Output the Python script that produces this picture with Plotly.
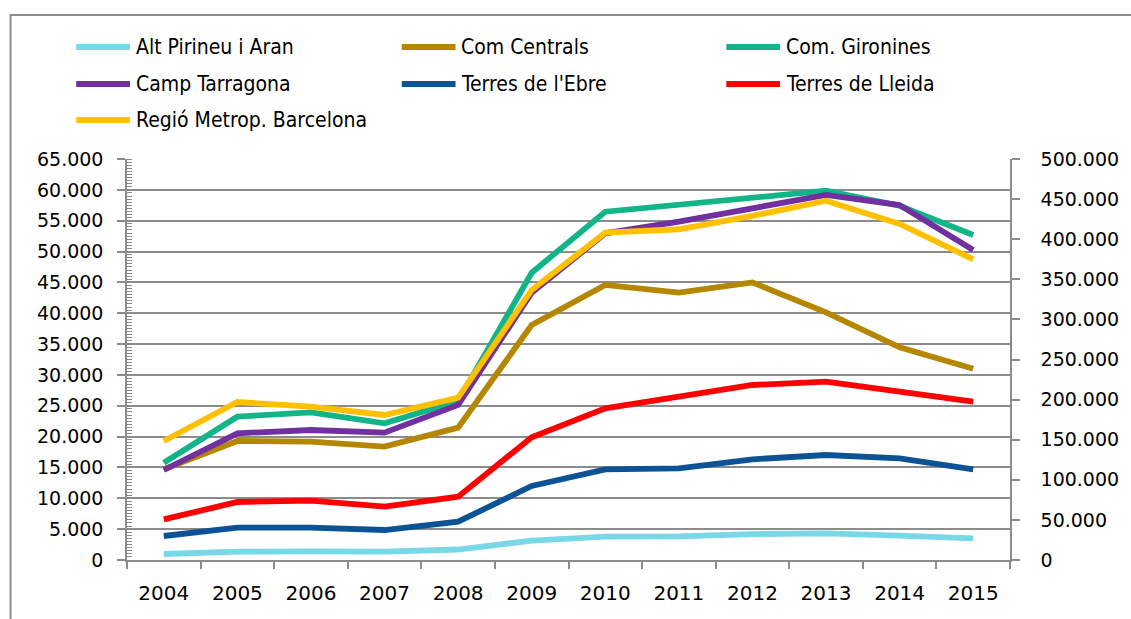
import plotly.graph_objects as go

years = ["2004", "2005", "2006", "2007", "2008", "2009", "2010", "2011", "2012", "2013", "2014", "2015"]

alt_pirineu = [970, 1350, 1400, 1350, 1700, 3130, 3780, 3840, 4200, 4320, 3950, 3510]
com_centrals = [14700, 19290, 19180, 18370, 21450, 38090, 44580, 43330, 45000, 40150, 34480, 31010]
com_gironines = [15770, 23230, 23940, 22160, 25750, 46570, 56460, 57540, 58730, 59860, 57430, 52680]
camp_tarragona = [14590, 20540, 21070, 20640, 25130, 43330, 52960, 54840, 57010, 59170, 57540, 50250]
terres_ebre = [3890, 5240, 5240, 4860, 6210, 12000, 14700, 14860, 16320, 17020, 16480, 14700]
terres_lleida = [6590, 9400, 9610, 8640, 10260, 19890, 24590, 26470, 28370, 28900, 27280, 25660]
regio_bcn = [148400, 197000, 191200, 180800, 202500, 336700, 408100, 412400, 429000, 448000, 419000, 374900]

names = ["Alt Pirineu i Aran", "Com Centrals", "Com. Gironines",
         "Camp Tarragona", "Terres de l'Ebre", "Terres de Lleida",
         "Regió Metrop. Barcelona"]
series = [alt_pirineu, com_centrals, com_gironines, camp_tarragona,
          terres_ebre, terres_lleida, regio_bcn]
colors = ["#78D8E8", "#B58600", "#12B588", "#7030A0", "#0B5394", "#FF0000", "#FFC000"]
axes = ["y", "y", "y", "y", "y", "y", "y2"]

left_ticks = list(range(0, 65001, 5000))
right_ticks = list(range(0, 500001, 50000))

W, H = 1131, 619
L, R, T, B = 127, 1014, 159, 560  # plot area in px

fig = go.Figure()
for name, vals, col, ax in zip(names, series, colors, axes):
    fig.add_trace(go.Scatter(x=years, y=vals, name=name, mode="lines",
                             line=dict(color=col, width=5.8), yaxis=ax,
                             showlegend=False))

grid = "#8C8C8C"
tickfont = dict(family="DejaVu Sans", size=19, color="#000000")

fig.update_layout(
    width=W, height=H,
    margin=dict(l=L, r=W - R, t=T, b=H - B, pad=0),
    paper_bgcolor="white", plot_bgcolor="white",
    separators=",.",
    xaxis=dict(type="category", range=[-0.5, 11.5], tickson="boundaries",
               ticks="outside", ticklen=7, tickcolor=grid, tickwidth=1.5,
               showline=True, linecolor=grid, linewidth=1.5, showgrid=False,
               tickfont=dict(family="DejaVu Sans", size=20, color="#000000"),
               ticklabelstandoff=14, fixedrange=True),
    yaxis=dict(range=[0, 65000], tickvals=left_ticks, tickformat=",d",
               ticks="outside", ticklen=8, tickcolor=grid, tickwidth=1.5,
               showline=True, linecolor=grid, linewidth=1.5,
               showgrid=True, gridcolor=grid, gridwidth=1.5, zeroline=False,
               minor=dict(dtick=500, ticks="inside", ticklen=5, tickcolor=grid,
                          tickwidth=1, showgrid=False),
               tickfont=tickfont, ticklabelstandoff=10),
    yaxis2=dict(range=[0, 500000], tickvals=right_ticks, tickformat=",d",
                overlaying="y", side="right",
                ticks="outside", ticklen=8, tickcolor=grid, tickwidth=1.5,
                showline=True, linecolor=grid, linewidth=1.5,
                showgrid=False, zeroline=False,
                tickfont=tickfont, ticklabelstandoff=17),
)

def px_x(px):
    return (px - L) / (R - L)

def px_y(py):
    return (B - py) / (B - T)

# outer chart border
fig.add_shape(type="rect", xref="paper", yref="paper",
              x0=px_x(10), y0=px_y(640), x1=px_x(1150), y1=px_y(15),
              line=dict(color="#8C8C8C", width=2), fillcolor="rgba(0,0,0,0)", layer="below")

# legend (3 columns)
col_x = [76, 403, 729]
row_y = [47, 84, 120]
for i, (name, col) in enumerate(zip(names, colors)):
    r, c = divmod(i, 3)
    x0, y = col_x[c], row_y[r]
    fig.add_shape(type="line", xref="paper", yref="paper",
                  x0=px_x(x0), x1=px_x(x0 + 54), y0=px_y(y), y1=px_y(y),
                  line=dict(color=col, width=6))
    fig.add_annotation(xref="paper", yref="paper", x=px_x(x0 + 58), y=px_y(y),
                       text=name, showarrow=False, xanchor="left", yanchor="middle",
                       font=dict(family="Liberation Sans Narrow, DejaVu Sans Condensed, sans-serif",
                                 size=21, color="#000000"))

fig.write_html("out.html", config={"displayModeBar": False},
               post_script="document.body.style.margin='0';document.body.style.overflow='hidden';")
